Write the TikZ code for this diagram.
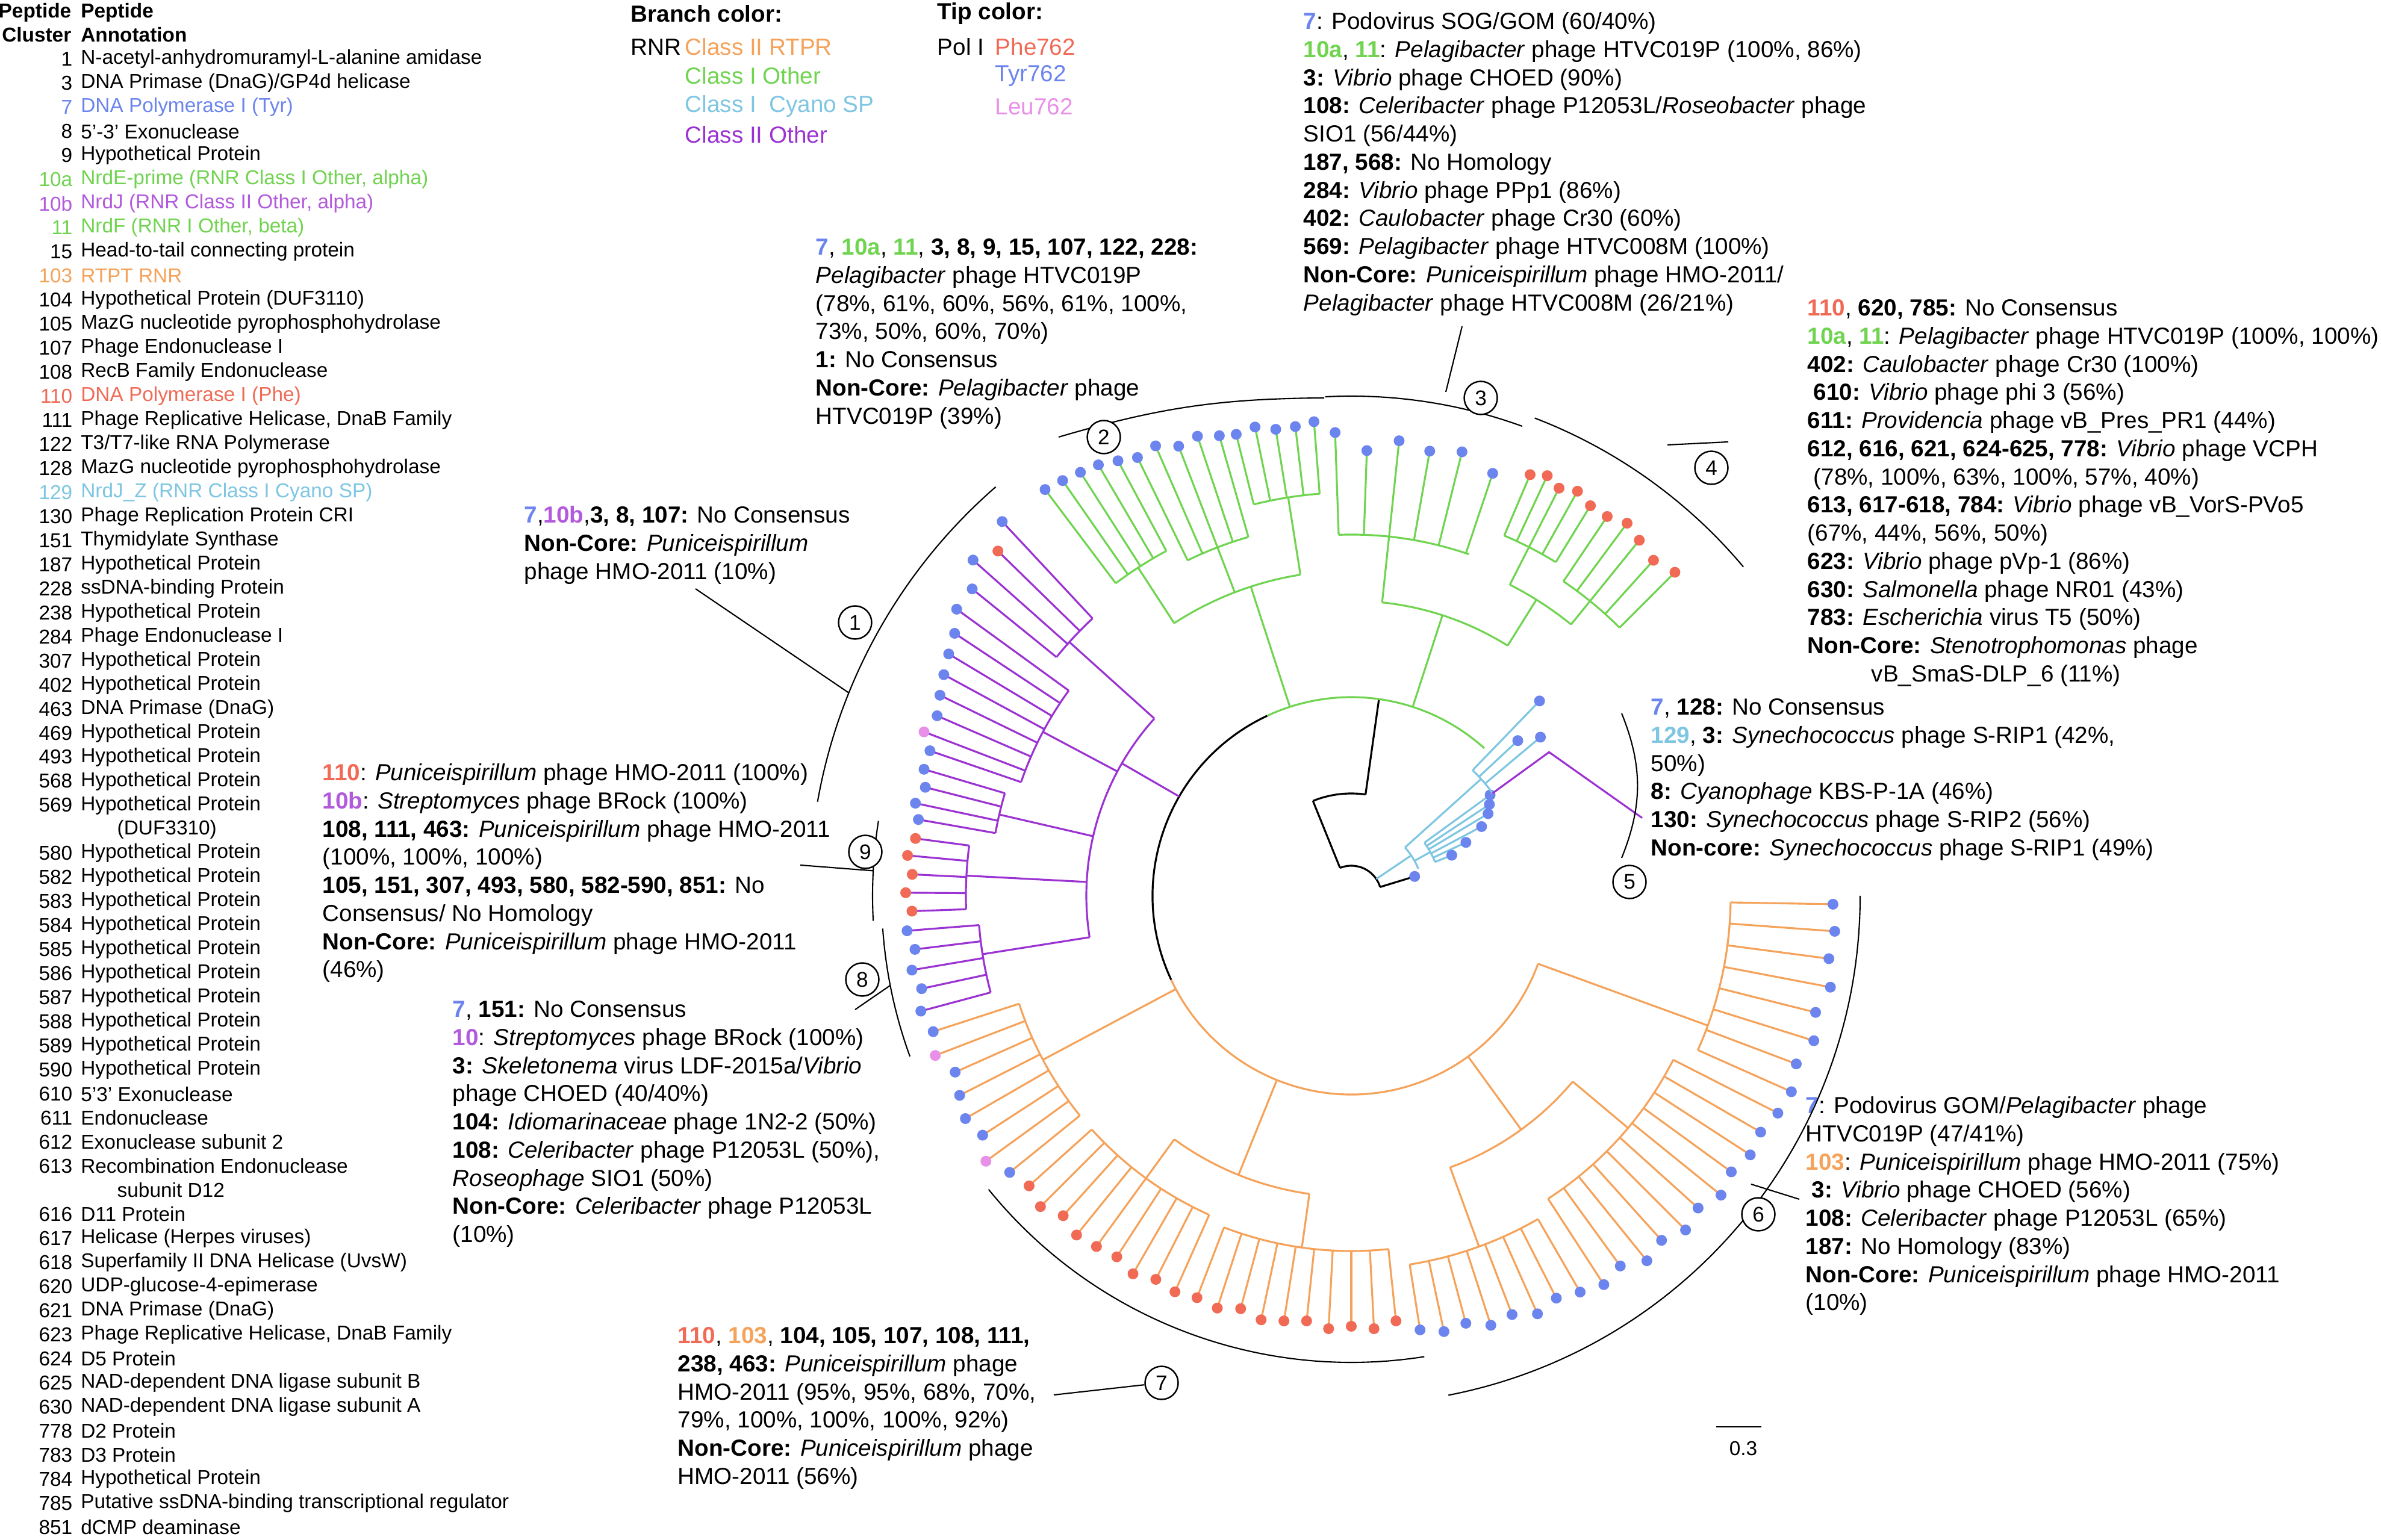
\documentclass[tikz,border=0pt]{standalone}
\usepackage{fontspec}
\setmainfont{Liberation Sans}
\usetikzlibrary{calc}
\definecolor{corg}{RGB}{245,162,90}
\definecolor{cgrn}{RGB}{112,212,80}
\definecolor{ccya}{RGB}{126,198,226}
\definecolor{cpur}{RGB}{155,50,210}
\definecolor{tpur}{RGB}{178,90,220}
\definecolor{cphe}{RGB}{240,106,85}
\definecolor{ctyr}{RGB}{107,132,238}
\definecolor{cleu}{RGB}{232,144,232}
\newcommand\B[1]{\textbf{#1}}
\newcommand\I[1]{\textit{#1}}
\newcommand\CB[2]{\textcolor{#1}{\textbf{#2}}}
\newcommand\lrow[4]{%
  \node[lnum,text=#4] (ln#1) at (1.21,{25.57-0.9835-0.3997*#1}) {#2};
  \node[ltxt,text=#4] (lt#1) at (1.336,{25.57-0.9835-0.3997*#1}) {#3};}
\newcommand\lcont[2]{\node[ltxt] (lc#1) at (1.94,{25.57-0.9835-0.3997*#1}) {#2};}
% sub-clade: radial at #1 from #2 to #3, arc at #3 from #4 to #5, style #6
\newcommand\sub[6]{%
  \draw[#6] (#1:#2) -- (#1:#3);
  \draw[#6] (#4:#3) arc[start angle=#4, end angle=#5, radius=#3];}
% tips: arc radius #1, style #2, list angle/radius/colour
\newcommand\tips[3]{%
  \foreach \a/\r/\c in {#3} {\draw[#2] (\a:#1) -- (\a:\r);}
  \foreach \a/\r/\c in {#3} {\fill[\c] (\a:\r) circle (0.09);}}
\tikzset{
  lnum/.style={anchor=east,inner sep=0pt,font=\fontsize{9.5}{11.4}\selectfont},
  ltxt/.style={anchor=west,inner sep=0pt,font=\fontsize{9.5}{11.4}\selectfont},
  blk/.style={anchor=north west,inner sep=0pt,align=left,font=\fontsize{11}{13.3}\selectfont},
  leg/.style={anchor=west,inner sep=0pt,font=\fontsize{11}{13.3}\selectfont},
  num/.style={draw,circle,fill=white,line width=0.7pt,minimum size=0.55cm,inner sep=0pt,font=\fontsize{10}{12}\selectfont},
  brk/.style={line width=0.6pt},
  lead/.style={line width=0.6pt},
  bk/.style={line width=0.9pt,black},
  gr/.style={line width=0.9pt,cgrn},
  pu/.style={line width=0.9pt,cpur},
  og/.style={line width=0.9pt,corg},
  cy/.style={line width=0.9pt,ccya},
}
\begin{document}
\begin{tikzpicture}
\useasboundingbox[fill=white] (0,0) rectangle (39.54,25.57);
% ---------- left legend ----------
\node[anchor=east,inner sep=0pt,align=right,font=\bfseries\fontsize{9.5}{11.4}\selectfont] (hd1) at (1.19,25.19) {Peptide\\Cluster};
\node[anchor=west,inner sep=0pt,align=left,font=\bfseries\fontsize{9.5}{11.4}\selectfont] (hd2) at (1.336,25.19) {Peptide\\Annotation};
\lrow{0}{1}{N-acetyl-anhydromuramyl-L-alanine amidase}{black}
\lrow{1}{3}{DNA Primase (DnaG)/GP4d helicase}{black}
\lrow{2}{7}{DNA Polymerase I (Tyr)}{ctyr}
\lrow{3}{8}{5'-3' Exonuclease}{black}
\lrow{4}{9}{Hypothetical Protein}{black}
\lrow{5}{10a}{NrdE-prime (RNR Class I Other, alpha)}{cgrn}
\lrow{6}{10b}{NrdJ (RNR Class II Other, alpha)}{tpur}
\lrow{7}{11}{NrdF (RNR I Other, beta)}{cgrn}
\lrow{8}{15}{Head-to-tail connecting protein}{black}
\lrow{9}{103}{RTPT RNR}{corg}
\lrow{10}{104}{Hypothetical Protein (DUF3110)}{black}
\lrow{11}{105}{MazG nucleotide pyrophosphohydrolase}{black}
\lrow{12}{107}{Phage Endonuclease I}{black}
\lrow{13}{108}{RecB Family Endonuclease}{black}
\lrow{14}{110}{DNA Polymerase I (Phe)}{cphe}
\lrow{15}{111}{Phage Replicative Helicase, DnaB Family}{black}
\lrow{16}{122}{T3/T7-like RNA Polymerase}{black}
\lrow{17}{128}{MazG nucleotide pyrophosphohydrolase}{black}
\lrow{18}{129}{NrdJ\_Z (RNR Class I Cyano SP)}{ccya}
\lrow{19}{130}{Phage Replication Protein CRI}{black}
\lrow{20}{151}{Thymidylate Synthase}{black}
\lrow{21}{187}{Hypothetical Protein}{black}
\lrow{22}{228}{ssDNA-binding Protein}{black}
\lrow{23}{238}{Hypothetical Protein}{black}
\lrow{24}{284}{Phage Endonuclease I}{black}
\lrow{25}{307}{Hypothetical Protein}{black}
\lrow{26}{402}{Hypothetical Protein}{black}
\lrow{27}{463}{DNA Primase (DnaG)}{black}
\lrow{28}{469}{Hypothetical Protein}{black}
\lrow{29}{493}{Hypothetical Protein}{black}
\lrow{30}{568}{Hypothetical Protein}{black}
\lrow{31}{569}{Hypothetical Protein}{black}
\lcont{32}{(DUF3310)}
\lrow{33}{580}{Hypothetical Protein}{black}
\lrow{34}{582}{Hypothetical Protein}{black}
\lrow{35}{583}{Hypothetical Protein}{black}
\lrow{36}{584}{Hypothetical Protein}{black}
\lrow{37}{585}{Hypothetical Protein}{black}
\lrow{38}{586}{Hypothetical Protein}{black}
\lrow{39}{587}{Hypothetical Protein}{black}
\lrow{40}{588}{Hypothetical Protein}{black}
\lrow{41}{589}{Hypothetical Protein}{black}
\lrow{42}{590}{Hypothetical Protein}{black}
\lrow{43}{610}{5'3' Exonuclease}{black}
\lrow{44}{611}{Endonuclease}{black}
\lrow{45}{612}{Exonuclease subunit 2}{black}
\lrow{46}{613}{Recombination Endonuclease}{black}
\lcont{47}{subunit D12}
\lrow{48}{616}{D11 Protein}{black}
\lrow{49}{617}{Helicase (Herpes viruses)}{black}
\lrow{50}{618}{Superfamily II DNA Helicase (UvsW)}{black}
\lrow{51}{620}{UDP-glucose-4-epimerase}{black}
\lrow{52}{621}{DNA Primase (DnaG)}{black}
\lrow{53}{623}{Phage Replicative Helicase, DnaB Family}{black}
\lrow{54}{624}{D5 Protein}{black}
\lrow{55}{625}{NAD-dependent DNA ligase subunit B}{black}
\lrow{56}{630}{NAD-dependent DNA ligase subunit A}{black}
\lrow{57}{778}{D2 Protein}{black}
\lrow{58}{783}{D3 Protein}{black}
\lrow{59}{784}{Hypothetical Protein}{black}
\lrow{60}{785}{Putative ssDNA-binding transcriptional regulator}{black}
\lrow{61}{851}{dCMP deaminase}{black}
% ---------- colour legend ----------
\node[leg,font=\bfseries\fontsize{11}{13.3}\selectfont] (bc) at (10.47,25.34) {Branch color:};
\node[leg,font=\bfseries\fontsize{11}{13.3}\selectfont] (tc) at (15.56,25.34) {Tip color:};
\node[leg] (rnr) at (10.47,24.79) {RNR};
\node[leg,text=corg] (c1) at (11.37,24.79) {Class II RTPR};
\node[leg,text=cgrn] (c2) at (11.37,24.31) {Class I Other};
\node[leg,text=ccya] (c3) at (11.37,23.80) {Class I\ \ Cyano SP};
\node[leg,text=cpur] (c4) at (11.37,23.33) {Class II Other};
\node[leg] (pol) at (15.56,24.79) {Pol I};
\node[leg,text=cphe] (t1) at (16.52,24.79) {Phe762};
\node[leg,text=ctyr] (t2) at (16.52,24.31) {Tyr762};
\node[leg,text=cleu] (t3) at (16.52,23.80) {Leu762};
% ---------- annotation blocks ----------
\node[blk] (a3) at (21.64,25.37) {\CB{ctyr}{7}: Podovirus SOG/GOM (60/40\%)\\
\CB{cgrn}{10a}, \CB{cgrn}{11}: \I{Pelagibacter} phage HTVC019P (100\%, 86\%)\\
\B{3:} \I{Vibrio} phage CHOED (90\%)\\
\B{108:} \I{Celeribacter} phage P12053L/\I{Roseobacter} phage\\
SIO1 (56/44\%)\\
\B{187, 568:} No Homology\\
\B{284:} \I{Vibrio} phage PPp1 (86\%)\\
\B{402:} \I{Caulobacter} phage Cr30 (60\%)\\
\B{569:} \I{Pelagibacter} phage HTVC008M (100\%)\\
\B{Non-Core:} \I{Puniceispirillum} phage HMO-2011/\\
\I{Pelagibacter} phage HTVC008M (26/21\%)};
\node[blk] (a4) at (30.01,20.60) {\CB{cphe}{110}, \B{620, 785:} No Consensus\\
\CB{cgrn}{10a}, \CB{cgrn}{11}: \I{Pelagibacter} phage HTVC019P (100\%, 100\%)\\
\B{402:} \I{Caulobacter} phage Cr30 (100\%)\\
\hspace*{0.1cm}\B{610:} \I{Vibrio} phage phi 3 (56\%)\\
\B{611:} \I{Providencia} phage vB\_Pres\_PR1 (44\%)\\
\B{612, 616, 621, 624-625, 778:} \I{Vibrio} phage VCPH\\
\hspace*{0.1cm}(78\%, 100\%, 63\%, 100\%, 57\%, 40\%)\\
\B{613, 617-618, 784:} \I{Vibrio} phage vB\_VorS-PVo5\\
(67\%, 44\%, 56\%, 50\%)\\
\B{623:} \I{Vibrio} phage pVp-1 (86\%)\\
\B{630:} \I{Salmonella} phage NR01 (43\%)\\
\B{783:} \I{Escherichia} virus T5 (50\%)\\
\B{Non-Core:} \I{Stenotrophomonas} phage\\
\hspace*{1.06cm}vB\_SmaS-DLP\_6 (11\%)};
\node[blk] (a2) at (13.54,21.61) {\CB{ctyr}{7}, \CB{cgrn}{10a}, \CB{cgrn}{11}, \B{3, 8, 9, 15, 107, 122, 228:}\\
\I{Pelagibacter} phage HTVC019P\\
(78\%, 61\%, 60\%, 56\%, 61\%, 100\%,\\
73\%, 50\%, 60\%, 70\%)\\
\B{1:} No Consensus\\
\B{Non-Core:} \I{Pelagibacter} phage\\
HTVC019P (39\%)};
\node[blk] (a1) at (8.70,17.17) {\CB{ctyr}{7},\CB{tpur}{10b},\B{3, 8, 107:} No Consensus\\
\B{Non-Core:} \I{Puniceispirillum}\\
phage HMO-2011 (10\%)};
\node[blk] (a5) at (27.41,13.97) {\CB{ctyr}{7}, \B{128:} No Consensus\\
\CB{ccya}{129}, \B{3:} \I{Synechococcus} phage S-RIP1 (42\%,\\
50\%)\\
\B{8:} \I{Cyanophage} KBS-P-1A (46\%)\\
\B{130:} \I{Synechococcus} phage S-RIP2 (56\%)\\
\B{Non-core:} \I{Synechococcus} phage S-RIP1 (49\%)};
\node[blk] (a9) at (5.35,12.89) {\CB{cphe}{110}: \I{Puniceispirillum} phage HMO-2011 (100\%)\\
\CB{tpur}{10b}: \I{Streptomyces} phage BRock (100\%)\\
\B{108, 111, 463:} \I{Puniceispirillum} phage HMO-2011\\
(100\%, 100\%, 100\%)\\
\B{105, 151, 307, 493, 580, 582-590, 851:} No\\
Consensus/ No Homology\\
\B{Non-Core:} \I{Puniceispirillum} phage HMO-2011\\
(46\%)};
\node[blk] (a8) at (7.51,8.95) {\CB{ctyr}{7}, \B{151:} No Consensus\\
\CB{tpur}{10}: \I{Streptomyces} phage BRock (100\%)\\
\B{3:} \I{Skeletonema} virus LDF-2015a/\I{Vibrio}\\
phage CHOED (40/40\%)\\
\B{104:} \I{Idiomarinaceae} phage 1N2-2 (50\%)\\
\B{108:} \I{Celeribacter} phage P12053L (50\%),\\
\I{Roseophage} SIO1 (50\%)\\
\B{Non-Core:} \I{Celeribacter} phage P12053L\\
(10\%)};
\node[blk] (a6) at (29.98,7.36) {\CB{ctyr}{7}: Podovirus GOM/\I{Pelagibacter} phage\\
HTVC019P (47/41\%)\\
\CB{corg}{103}: \I{Puniceispirillum} phage HMO-2011 (75\%)\\
\hspace*{0.1cm}\B{3:} \I{Vibrio} phage CHOED (56\%)\\
\B{108:} \I{Celeribacter} phage P12053L (65\%)\\
\B{187:} No Homology (83\%)\\
\B{Non-Core:} \I{Puniceispirillum} phage HMO-2011\\
(10\%)};
\node[blk] (a7) at (11.25,3.53) {\CB{cphe}{110}, \CB{corg}{103}, \B{104, 105, 107, 108, 111,}\\
\B{238, 463:} \I{Puniceispirillum} phage\\
HMO-2011 (95\%, 95\%, 68\%, 70\%,\\
79\%, 100\%, 100\%, 100\%, 92\%)\\
\B{Non-Core:} \I{Puniceispirillum} phage\\
HMO-2011 (56\%)};
% ---------- tree ----------
\begin{scope}[shift={(22.44,10.69)}]
\coordinate (C) at (0,0);
% root and backbone
\draw[bk] (17:0.5) arc[start angle=17,end angle=112,radius=0.5];
\draw[bk] (112:0.5) -- (112:1.7);
\draw[bk] (112:1.7) arc[start angle=112,end angle=82,radius=1.7];
\draw[bk] (82:1.7) -- (82:3.3);
\draw[bk] (115:3.3) arc[start angle=115,end angle=205,radius=3.3];
\tips{0.5}{bk}{17/1.1/ctyr}
% green (Class I Other)
\draw[gr] (115:3.3) arc[start angle=115,end angle=48,radius=3.3];
\sub{108}{3.3}{5.4}{123}{99}{gr}
\sub{123}{5.4}{6.5}{127}{118.2}{gr}
\tips{6.5}{gr}{127/8.45/ctyr,124.8/8.4/ctyr,122.6/8.35/ctyr,120.4/8.3/ctyr,118.2/8.2/ctyr}
\sub{111}{5.4}{6.2}{116}{106}{gr}
\tips{6.2}{gr}{116/8.1/ctyr,113.5/8.15/ctyr,111/8.0/ctyr,108.5/8.05/ctyr,106/7.95/ctyr}
\sub{99}{5.4}{6.7}{104}{94.5}{gr}
\tips{6.7}{gr}{104/7.9/ctyr,101.6/7.95/ctyr,99.2/7.85/ctyr,96.8/7.85/ctyr,94.5/7.9/ctyr}
\sub{72}{3.3}{4.9}{84}{58}{gr}
\sub{84}{4.9}{6.0}{92}{71}{gr}
\tips{6.0}{gr}{92/7.7/ctyr,88/7.4/ctyr,84/7.6/ctyr,80/7.5/ctyr,76/7.6/ctyr,71.5/7.4/ctyr}
\sub{58}{4.9}{5.8}{63}{51}{gr}
\sub{63}{5.8}{6.5}{67}{58.5}{gr}
\tips{6.5}{gr}{67/7.6/cphe,65/7.7/cphe,63/7.6/cphe,60.8/7.7/cphe,58.5/7.6/cphe}
\sub{51}{5.8}{6.3}{56}{45}{gr}
\tips{6.3}{gr}{56/7.6/cphe,53.5/7.7/cphe,51/7.6/cphe,48/7.5/cphe,45/7.6/cphe}
% cyano (Class I Cyano SP)
\sub{34}{0.5}{1.2}{22}{42}{cy}
\sub{29}{1.2}{1.5}{22}{36}{cy}
\tips{1.5}{cy}{22/1.8/ctyr,25/2.1/ctyr,28/2.45/ctyr,31/2.65/ctyr,33.5/2.75/ctyr,36/2.85/ctyr}
\sub{42}{1.2}{2.9}{36}{46}{cy}
\tips{2.9}{cy}{40/4.1/ctyr,43/3.78/ctyr,46/4.5/ctyr}
% purple branch on the right
\draw[pu] (36:2.9) -- (36:4.06) -- (15:5.0);
% purple (Class II Other)
\sub{150}{3.3}{4.4}{138}{189}{pu}
\sub{138}{4.4}{6.3}{133}{141}{pu}
\tips{6.3}{pu}{133/8.5/ctyr,135.7/8.2/cphe,138.4/8.4/ctyr,141/8.1/ctyr}
\sub{152}{4.4}{5.8}{144}{161}{pu}
\tips{5.8}{pu}{144/8.1/ctyr,146.5/7.9/ctyr,149/7.8/ctyr,151.5/7.7/ctyr,154/7.6/ctyr,156.5/7.5/ctyr,159/7.6/cleu,161/7.4/ctyr}
\sub{167}{4.4}{6.0}{163.5}{170}{pu}
\tips{6.0}{pu}{163.5/7.4/ctyr,165.7/7.3/ctyr,168/7.4/ctyr,170/7.3/ctyr}
\sub{177}{4.4}{6.4}{172.5}{182}{pu}
\tips{6.4}{pu}{172.5/7.3/cphe,174.8/7.4/cphe,177.2/7.3/cphe,179.6/7.4/cphe,182/7.3/cphe}
\sub{189}{4.4}{6.2}{184.5}{195}{pu}
\tips{6.2}{pu}{184.5/7.4/ctyr,187/7.3/ctyr,189.6/7.4/ctyr,192.2/7.3/ctyr,195/7.4/ctyr}
% orange (Class II RTPR)
\draw[og] (205:3.3) arc[start angle=205,end angle=340,radius=3.3];
\sub{208}{3.3}{5.8}{198}{219}{og}
\tips{5.8}{og}{198/7.3/ctyr,201/7.4/cleu,204/7.2/ctyr,207/7.3/ctyr,210/7.4/ctyr,213/7.3/ctyr,216/7.5/cleu,219/7.3/ctyr}
\sub{248}{3.3}{5.0}{234}{262}{og}
\sub{234}{5.0}{5.8}{222}{246}{og}
\tips{5.8}{og}{222/7.2/cphe,225/7.3/cphe,228/7.15/cphe,231/7.25/cphe,234/7.2/cphe,237/7.15/cphe,240/7.25/cphe,243/7.15/cphe,246/7.2/cphe}
\sub{262}{5.0}{5.9}{249}{276}{og}
\tips{5.9}{og}{249/7.15/cphe,252/7.2/cphe,255/7.1/cphe,258/7.2/cphe,261/7.15/cphe,264/7.1/cphe,267/7.2/cphe,270/7.15/cphe,273/7.2/cphe,276/7.1/cphe}
\sub{306}{3.3}{4.8}{290}{320}{og}
\sub{290}{4.8}{6.2}{279}{300}{og}
\tips{6.2}{og}{279/7.3/ctyr,282/7.4/ctyr,285/7.35/ctyr,288/7.5/ctyr,291/7.45/ctyr,294/7.6/ctyr,297/7.5/ctyr,300/7.6/ctyr}
\sub{320}{4.8}{6.0}{303}{333}{og}
\tips{6.0}{og}{303/7.7/ctyr,306/7.6/ctyr,309/7.8/ctyr,312/7.7/ctyr,315/7.85/ctyr,318/7.75/ctyr,321/7.9/ctyr,324/7.8/ctyr,327/7.9/ctyr,330/7.85/ctyr,333/7.95/ctyr}
\sub{340}{3.3}{6.3}{336}{359}{og}
\tips{6.3}{og}{336/8.0/ctyr,339.3/7.9/ctyr,342.6/8.05/ctyr,345.9/7.95/ctyr,349.2/8.1/ctyr,352.5/8.0/ctyr,355.8/8.05/ctyr,359/8.0/ctyr}
% brackets
\coordinate (b2a) at (17.58-22.44,18.31-10.69);
\coordinate (b2b) at (21.99-22.44,18.96-10.69);
\draw[brk] (b2a) to[bend left=8] (b2b);
\draw[brk] (93:8.3) arc[start angle=93,end angle=70,radius=8.3];
\draw[brk] (69:8.5) arc[start angle=69,end angle=40,radius=8.5];
\draw[brk] (131:9.0) arc[start angle=131,end angle=170,radius=9.0];
\draw[brk] (171:7.95) arc[start angle=171,end angle=183,radius=7.95];
\draw[brk] (184:7.8) arc[start angle=184,end angle=200,radius=7.8];
\draw[brk] (219:7.75) arc[start angle=219,end angle=279,radius=7.75];
\draw[brk] (281:8.45) arc[start angle=281,end angle=360,radius=8.45];
\coordinate (b5a) at (26.93-22.44,13.72-10.69);
\coordinate (b5b) at (26.93-22.44,11.32-10.69);
\draw[brk] (b5a) to[bend left=22] (b5b);
\coordinate (l1b) at (158:9.0);
\coordinate (l9b) at (177:7.95);
\coordinate (l8b) at (191:7.8);
\end{scope}
% ---------- circled numbers ----------
\node[num] (n1) at (14.20,15.23) {1};
\node[num] (n2) at (18.33,18.31) {2};
\node[num] (n3) at (24.59,18.96) {3};
\node[num] (n4) at (28.42,17.80) {4};
\node[num] (n5) at (27.06,10.92) {5};
\node[num] (n6) at (29.20,5.40) {6};
\node[num] (n7) at (19.29,2.60) {7};
\node[num] (n8) at (14.32,9.30) {8};
\node[num] (n9) at (14.37,11.42) {9};
% leaders
\coordinate (l1a) at (11.55,15.79);
\coordinate (l3a) at (24.28,20.15); \coordinate (l3b) at (24.01,19.06);
\coordinate (l4a) at (27.69,18.18); \coordinate (l4b) at (28.70,18.23);
\coordinate (l9a) at (13.29,11.20);
\coordinate (l8a) at (14.20,8.80);
\coordinate (l7a) at (17.50,2.40);
\coordinate (l6a) at (29.08,5.90); \coordinate (l6b) at (29.88,5.65);
\draw[lead] (l1a) -- (l1b);
\draw[lead] (l3a) -- (l3b);
\draw[lead] (l4a) -- (l4b);
\draw[lead] (l9a) -- (l9b);
\draw[lead] (l8a) -- (l8b);
\draw[lead] (l7a) -- (n7);
\draw[lead] (l6a) -- (l6b);
% scale bar
\coordinate (sb1) at (28.50,1.87); \coordinate (sb2) at (29.25,1.87);
\draw[line width=0.6pt] (sb1) -- (sb2);
\node[inner sep=0pt,font=\fontsize{9.5}{11}\selectfont] (sbl) at (28.95,1.51) {0.3};
\end{tikzpicture}
\end{document}
